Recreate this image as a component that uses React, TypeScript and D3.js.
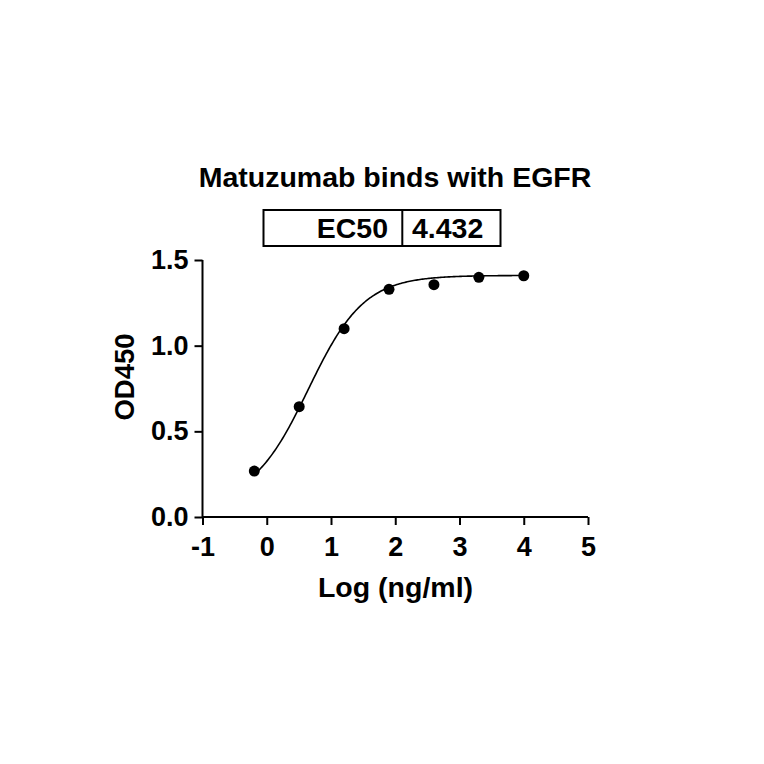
import React, { useEffect, useRef } from 'react';
import * as d3 from 'd3';

// log10 of concentration (ng/ml)
const logConc = [-0.194, 0.505, 1.204, 1.903, 2.602, 3.301, 4.0];
const od450 = [0.268, 0.644, 1.099, 1.329, 1.356, 1.399, 1.408];

const xTicks = [-1, 0, 1, 2, 3, 4, 5];
const xTickLabels = ['-1', '0', '1', '2', '3', '4', '5'];
const yTicks = [0, 0.5, 1.0, 1.5];
const yTickLabels = ['0.0', '0.5', '1.0', '1.5'];

// 4PL fit parameters
const ec50 = 4.432;
const fitBottom = 0.08;
const fitTop = 1.41;
const fitHill = 1.0;

const App: React.FC = () => {
  const svgRef = useRef<SVGSVGElement>(null);

  useEffect(() => {
    if (!svgRef.current) return;
    const svg = d3.select(svgRef.current);
    svg.selectAll('*').remove();

    const font = '"Liberation Sans", Arial, sans-serif';

    const x = d3.scaleLinear().domain([-1, 5]).range([202.5, 588]);
    const y = d3.scaleLinear().domain([0, 1.5]).range([517, 260]);

    const g = svg.append('g').style('font-family', font).style('font-weight', 'bold');

    // Title
    g.append('text')
      .attr('x', 395)
      .attr('y', 187)
      .attr('text-anchor', 'middle')
      .style('font-size', '28.5px')
      .text('Matuzumab binds with EGFR');

    // EC50 table
    g.append('rect')
      .attr('x', 263.5)
      .attr('y', 210)
      .attr('width', 237)
      .attr('height', 36)
      .attr('fill', 'none')
      .attr('stroke', '#000')
      .attr('stroke-width', 2);
    g.append('line')
      .attr('x1', 402.3)
      .attr('x2', 402.3)
      .attr('y1', 210)
      .attr('y2', 246)
      .attr('stroke', '#000')
      .attr('stroke-width', 2);
    g.append('text')
      .attr('x', 388)
      .attr('y', 237.5)
      .attr('text-anchor', 'end')
      .style('font-size', '28.5px')
      .text('EC50');
    g.append('text')
      .attr('x', 412)
      .attr('y', 237.5)
      .attr('text-anchor', 'start')
      .style('font-size', '28.5px')
      .text(ec50.toFixed(3));

    // Axes
    const xAxis = g.append('g').attr('transform', `translate(0,${y(0)})`);
    xAxis.call(
      d3
        .axisBottom(x)
        .tickValues(xTicks)
        .tickSize(8)
        .tickPadding(12)
        .tickFormat((d, i) => xTickLabels[i])
    );
    const yAxis = g.append('g').attr('transform', `translate(${x(-1)},0)`);
    yAxis.call(
      d3
        .axisLeft(y)
        .tickValues(yTicks)
        .tickSize(8)
        .tickPadding(6)
        .tickFormat((d, i) => yTickLabels[i])
    );

    [xAxis, yAxis].forEach(a => {
      a.select('.domain').attr('stroke', '#000').attr('stroke-width', 2);
      a.selectAll('.tick line').attr('stroke', '#000').attr('stroke-width', 2);
      a.selectAll('.tick text')
        .attr('fill', '#000')
        .style('font-family', font)
        .style('font-weight', 'bold')
        .style('font-size', '27px');
    });
    // straight axis lines without end caps
    xAxis.select('.domain').attr('d', `M${x(-1)},0H${x(5)}`);
    yAxis.select('.domain').attr('d', `M0,${y(0)}V${y(1.5)}`);

    // Axis titles
    g.append('text')
      .attr('x', 395.5)
      .attr('y', 597)
      .attr('text-anchor', 'middle')
      .style('font-size', '28.5px')
      .text('Log (ng/ml)');
    g.append('text')
      .attr('transform', `translate(134,377) rotate(-90)`)
      .attr('text-anchor', 'middle')
      .style('font-size', '27.5px')
      .text('OD450');

    // Fitted curve
    const logEc50 = Math.log10(ec50);
    const fit = (lx: number) =>
      fitBottom + (fitTop - fitBottom) / (1 + Math.pow(10, (logEc50 - lx) * fitHill));
    const xs = d3.range(logConc[0], logConc[logConc.length - 1] + 0.001, 0.02);
    const line = d3
      .line<number>()
      .x(d => x(d))
      .y(d => y(fit(d)));
    g.append('path')
      .attr('d', line(xs) as string)
      .attr('fill', 'none')
      .attr('stroke', '#000')
      .attr('stroke-width', 1.6);

    // Points
    g.selectAll('.pt')
      .data(logConc)
      .enter()
      .append('circle')
      .attr('class', 'pt')
      .attr('cx', d => x(d))
      .attr('cy', (d, i) => y(od450[i]))
      .attr('r', 5.5)
      .attr('fill', '#000');
  }, []);

  return (
    <svg
      ref={svgRef}
      width={764}
      height={764}
      style={{ position: 'absolute', left: 0, top: 0, background: '#fff' }}
    ></svg>
  );
};

export default App;
